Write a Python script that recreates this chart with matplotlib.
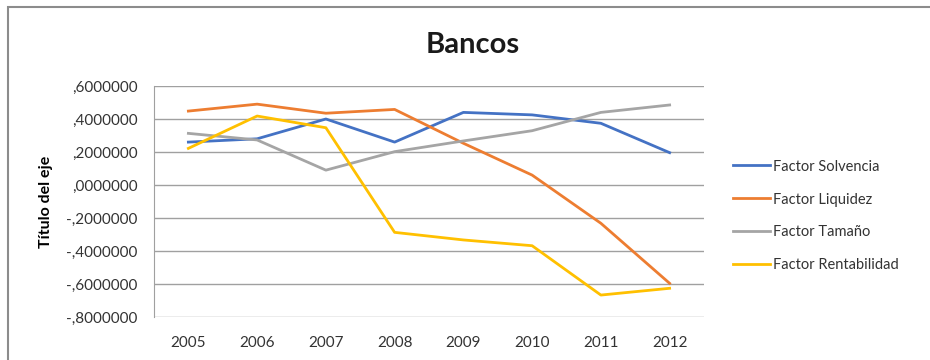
import matplotlib.pyplot as plt
from matplotlib.patches import Rectangle
from matplotlib.ticker import FuncFormatter

plt.rcParams['font.family'] = ['Lato', 'DejaVu Sans']

# Data
years = ['2005', '2006', '2007', '2008', '2009', '2010', '2011', '2012']
solvencia = [0.26, 0.28, 0.40, 0.26, 0.44, 0.425, 0.374, 0.196]
liquidez = [0.448, 0.49, 0.435, 0.458, 0.253, 0.06, -0.232, -0.596]
tamano = [0.313, 0.273, 0.09, 0.202, 0.267, 0.329, 0.44, 0.485]
rentabilidad = [0.222, 0.418, 0.347, -0.287, -0.333, -0.368, -0.667, -0.626]

series = [
    ('Factor Solvencia', solvencia, '#4472C4'),
    ('Factor Liquidez', liquidez, '#ED7D31'),
    ('Factor Tamaño', tamano, '#A5A5A5'),
    ('Factor Rentabilidad', rentabilidad, '#FFC000'),
]

fig = plt.figure(figsize=(9.3, 3.6), dpi=100)
# outer chart frame (cropped on right and bottom)
fig.patches.append(Rectangle((8 / 930, -0.1), 1.2, 1 - 7 / 360 + 0.1,
                             transform=fig.transFigure, fill=False,
                             edgecolor='#8c8c8c', linewidth=1.5))

ax = fig.add_axes([154 / 930, 43 / 360, 550 / 930, 231 / 360])
x = range(len(years))
for name, vals, col in series:
    ax.plot(x, vals, color=col, linewidth=2, label=name)

ax.set_xlim(-0.5, len(years) - 0.5)
ax.set_ylim(-0.8, 0.6)
ax.set_yticks([0.6, 0.4, 0.2, 0.0, -0.2, -0.4, -0.6, -0.8])
ax.set_xticks(list(x))
ax.set_xticklabels(years)


def fmt(v, pos):
    s = '%.7f' % abs(v)
    s = s.replace('0.', ',', 1)
    return ('-' if v < -1e-9 else '') + s


ax.yaxis.set_major_formatter(FuncFormatter(fmt))
ax.grid(axis='y', color='#a0a0a0', linewidth=1)
ax.set_axisbelow(True)
for side in ['top', 'right', 'bottom']:
    ax.spines[side].set_visible(False)
ax.spines['left'].set_color('#a0a0a0')
ax.tick_params(length=0, labelsize=11, colors='#333333')
ax.tick_params(axis='y', pad=12)
ax.tick_params(axis='x', pad=14)

ax.set_ylabel('Título del eje', fontsize=11.5, fontweight='bold', labelpad=9)
fig.text(0.508, 0.875, 'Bancos', fontsize=21, fontweight='bold',
         ha='center', va='center', color='#1a1a1a')

fig.legend(loc='center left', bbox_to_anchor=(720 / 930, 0.4), frameon=False,
           fontsize=10.5, handlelength=2.5, handletextpad=0.25, labelspacing=1.3,
           labelcolor='#333333')

fig.savefig('out.png', dpi=100)
